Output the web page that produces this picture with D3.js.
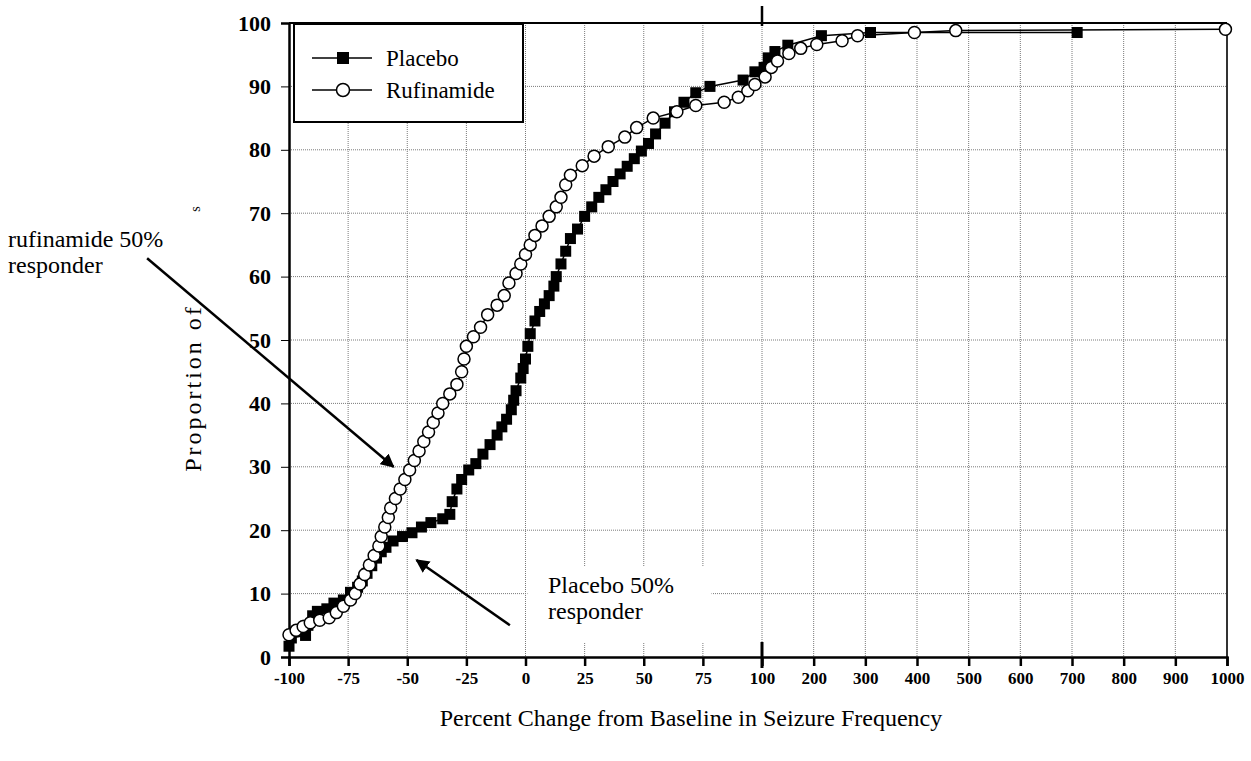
<!DOCTYPE html>
<html>
<head>
  <meta charset="utf-8">
  <script type="text/javascript" src="https://cdn.jsdelivr.net/npm/d3@7/dist/d3.min.js"></script>
  <style>
    body { margin: 0; background: #fff; }
    text { font-family: "Liberation Serif", "Times New Roman", serif; fill: #000; }
  </style>
</head>
<body>
  <div id="chart"></div>
  <script type="text/javascript">

    // tick values (the x axis is split: 25 steps up to 100, then 100 steps)
    var xTicks = [-100, -75, -50, -25, 0, 25, 50, 75, 100, 200, 300, 400, 500, 600, 700, 800, 900, 1000];
    var yTicks = [0, 10, 20, 30, 40, 50, 60, 70, 80, 90, 100];

    // Placebo : percent change / cumulative proportion
    var placeboX = [-100, -99, -93, -92, -90, -88, -84, -81, -77, -74, -71, -69, -67, -65, -63, -61, -59, -56, -52, -48, -44,
                    -40, -35, -32, -31, -29, -27, -24, -21, -18, -15, -12, -10, -8, -6, -5, -4, -2, -1, 0, 1, 2, 4,
                    6, 8, 10, 12, 13, 15, 17, 19, 22, 25, 28, 31, 34, 37, 40, 43, 46, 49, 52, 55, 59, 63,
                    67, 72, 78, 92, 97, 104, 112, 125, 150, 215, 310, 710];
    var placeboY = [1.7, 3.0, 3.4, 5.0, 6.5, 7.2, 7.6, 8.5, 9.0, 10.2, 11.0, 12.0, 13.2, 14.4, 15.6, 16.6, 17.3, 18.3, 19.0, 19.6, 20.5,
                    21.2, 21.8, 22.5, 24.5, 26.5, 28.0, 29.5, 30.5, 32.0, 33.5, 35.0, 36.3, 37.5, 39.0, 40.5, 42.0, 44.0, 45.5, 47.0, 49.0, 51.0, 53.0,
                    54.5, 55.7, 57.0, 58.5, 60.0, 62.0, 64.0, 66.0, 67.5, 69.5, 71.0, 72.5, 73.7, 75.0, 76.2, 77.4, 78.6, 79.8, 81.0, 82.5, 84.2, 86.0,
                    87.5, 89.0, 90.0, 91.0, 92.3, 93.0, 94.5, 95.5, 96.5, 98.0, 98.5, 98.5];

    // Rufinamide
    var rufiX = [-100, -97, -94, -91, -87, -83, -80, -77, -74, -72, -70, -68, -66, -64, -62, -61, -59.5, -58, -57, -55,
                 -53, -51, -49, -47, -45, -43, -41, -39, -37, -35, -32, -29, -27, -26, -25, -22, -19, -16, -12, -9,
                 -7, -4, -2, 0, 2, 4, 7, 10, 13, 15, 17, 19, 24, 29, 35, 42, 47, 54, 64, 72,
                 84, 90, 94, 97, 106, 118, 130, 152, 175, 206, 255, 285, 395, 475, 997];
    var rufiY = [3.5, 4.2, 4.8, 5.4, 5.8, 6.2, 7.0, 8.0, 9.0, 10.0, 11.5, 13.0, 14.5, 16.0, 17.5, 19.0, 20.5, 22.0, 23.5, 25.0,
                 26.5, 28.0, 29.5, 31.0, 32.5, 34.0, 35.5, 37.0, 38.5, 40.0, 41.5, 43.0, 45.0, 47.0, 49.0, 50.5, 52.0, 54.0, 55.5, 57.0,
                 59.0, 60.5, 62.0, 63.5, 65.0, 66.5, 68.0, 69.5, 71.0, 72.5, 74.5, 76.0, 77.5, 79.0, 80.5, 82.0, 83.5, 85.0, 86.0, 87.0,
                 87.5, 88.3, 89.3, 90.3, 91.5, 93.0, 94.0, 95.2, 96.0, 96.6, 97.2, 98.0, 98.5, 98.8, 99.0];

    var w = 1251;
    var h = 761;
    var pLeft = 289, pBreak = 762, pRight = 1227, pTop = 23, pBottom = 657;

    var placebo = placeboX.map(function(d, i) { return {x: d, y: placeboY[i]}; });
    var rufi = rufiX.map(function(d, i) { return {x: d, y: rufiY[i]}; });

    var svg = d3.select("#chart")
                .append("svg")
                .attr("width", w)
                .attr("height", h);

    // piecewise scale: -100..100 and 100..1000 get their own stretch
    var xScale = d3.scaleLinear()
                   .domain([-100, 100, 1000])
                   .range([pLeft, pBreak, pRight]);
    var yScale = d3.scaleLinear()
                   .domain([0, 100])
                   .range([pBottom, pTop]);

    // grid
    svg.append("g")
       .selectAll("line")
       .data(xTicks.slice(1))
       .enter()
       .append("line")
       .attr("x1", function(d) { return xScale(d); })
       .attr("x2", function(d) { return xScale(d); })
       .attr("y1", pTop)
       .attr("y2", pBottom)
       .attr("stroke", "#7a7a7a")
       .attr("stroke-width", 1)
       .attr("stroke-dasharray", "1,1");
    svg.append("g")
       .selectAll("line")
       .data(yTicks.slice(1, -1))
       .enter()
       .append("line")
       .attr("x1", pLeft)
       .attr("x2", pRight)
       .attr("y1", function(d) { return yScale(d); })
       .attr("y2", function(d) { return yScale(d); })
       .attr("stroke", "#7a7a7a")
       .attr("stroke-width", 1)
       .attr("stroke-dasharray", "1,1");

    // frame top / right
    svg.append("line").attr("x1", pLeft).attr("x2", pRight).attr("y1", pTop).attr("y2", pTop)
       .attr("stroke", "#000").attr("stroke-width", 2);
    svg.append("line").attr("x1", pRight).attr("x2", pRight).attr("y1", pTop).attr("y2", pBottom)
       .attr("stroke", "#333").attr("stroke-width", 2);

    // white box behind the placebo note (it hides the grid)
    svg.append("rect")
       .attr("x", xScale(0) + 2).attr("y", 566)
       .attr("width", 184).attr("height", 76)
       .attr("fill", "#fff");

    // axes
    var xAxis = d3.axisBottom(xScale)
                  .tickValues(xTicks)
                  .tickSize(9)
                  .tickPadding(6)
                  .tickFormat(function(d) { return String(d); });
    var gx = svg.append("g")
                .attr("class", "x_Axis")
                .attr("transform", "translate(0," + pBottom + ")")
                .call(xAxis);
    gx.select(".domain").attr("stroke-width", 2.5);
    gx.selectAll(".tick line").attr("stroke-width", 2.5);
    gx.selectAll("text")
      .style("font-family", "Liberation Serif")
      .style("font-size", "17px")
      .style("font-weight", "bold");

    var yAxis = d3.axisLeft(yScale)
                  .tickValues(yTicks)
                  .tickSize(8)
                  .tickPadding(10);
    var gy = svg.append("g")
                .attr("class", "y_Axis")
                .attr("transform", "translate(" + pLeft + ",0)")
                .call(yAxis);
    gy.select(".domain").attr("stroke-width", 2.5);
    gy.selectAll("text")
      .style("font-family", "Liberation Serif")
      .style("font-size", "22px")
      .style("font-weight", "bold");

    // break marks at 100
    svg.append("line").attr("x1", xScale(100)).attr("x2", xScale(100)).attr("y1", 6).attr("y2", pTop + 3)
       .attr("stroke", "#000").attr("stroke-width", 2.5);
    svg.append("line").attr("x1", xScale(100)).attr("x2", xScale(100)).attr("y1", pBottom - 15).attr("y2", pBottom + 11)
       .attr("stroke", "#000").attr("stroke-width", 3);

    var line = d3.line()
                 .x(function(d) { return xScale(d.x); })
                 .y(function(d) { return yScale(d.y); });

    // placebo
    svg.append("path")
       .datum(placebo)
       .attr("fill", "none")
       .attr("stroke", "#000")
       .attr("stroke-width", 1.5)
       .attr("d", line);
    svg.append("g")
       .selectAll("rect")
       .data(placebo)
       .enter()
       .append("rect")
       .attr("x", function(d) { return xScale(d.x) - 5.5; })
       .attr("y", function(d) { return yScale(d.y) - 5.5; })
       .attr("width", 11)
       .attr("height", 11)
       .attr("fill", "#000");

    // rufinamide
    svg.append("path")
       .datum(rufi)
       .attr("fill", "none")
       .attr("stroke", "#000")
       .attr("stroke-width", 1.5)
       .attr("d", line);
    svg.append("g")
       .selectAll("circle")
       .data(rufi)
       .enter()
       .append("circle")
       .attr("cx", function(d) { return xScale(d.x); })
       .attr("cy", function(d) { return yScale(d.y); })
       .attr("r", 6)
       .attr("fill", "#fff")
       .attr("stroke", "#000")
       .attr("stroke-width", 1.5);

    // legend
    var legend = svg.append("g").attr("transform", "translate(294,24)");
    legend.append("rect")
          .attr("width", 229).attr("height", 98)
          .attr("fill", "#fff").attr("stroke", "#000").attr("stroke-width", 2);
    legend.append("line").attr("x1", 18).attr("x2", 78).attr("y1", 34).attr("y2", 34)
          .attr("stroke", "#000").attr("stroke-width", 1.5);
    legend.append("rect").attr("x", 43).attr("y", 28).attr("width", 12).attr("height", 12).attr("fill", "#000");
    legend.append("text").attr("x", 92).attr("y", 42).style("font-size", "23px").text("Placebo");
    legend.append("line").attr("x1", 18).attr("x2", 78).attr("y1", 66).attr("y2", 66)
          .attr("stroke", "#000").attr("stroke-width", 1.5);
    legend.append("circle").attr("cx", 49).attr("cy", 66).attr("r", 6.5)
          .attr("fill", "#fff").attr("stroke", "#000").attr("stroke-width", 1.5);
    legend.append("text").attr("x", 92).attr("y", 74).style("font-size", "23px").text("Rufinamide");

    // axis titles
    svg.append("text")
       .attr("x", 691).attr("y", 726)
       .attr("text-anchor", "middle")
       .style("font-size", "24px")
       .text("Percent Change from Baseline in Seizure Frequency");
    svg.append("text")
       .attr("transform", "translate(201,388) rotate(-90)")
       .attr("text-anchor", "middle")
       .style("font-size", "24px")
       .style("letter-spacing", "3px")
       .text("Proportion of");
    svg.append("text")
       .attr("transform", "translate(200,209) rotate(-90)")
       .attr("text-anchor", "middle")
       .style("font-size", "14px")
       .text("s");

    // annotations
    svg.append("defs").append("marker")
       .attr("id", "head")
       .attr("viewBox", "0 0 10 10")
       .attr("refX", 9).attr("refY", 5)
       .attr("markerWidth", 5.5).attr("markerHeight", 5.5)
       .attr("orient", "auto")
       .append("path")
       .attr("d", "M0,0L10,5L0,10z")
       .attr("fill", "#000");

    svg.append("text").attr("x", 8).attr("y", 247).style("font-size", "24px").text("rufinamide 50%");
    svg.append("text").attr("x", 8).attr("y", 273).style("font-size", "24px").text("responder");
    svg.append("line")
       .attr("x1", xScale(-160)).attr("y1", yScale(62.9))
       .attr("x2", xScale(-55.8)).attr("y2", yScale(30))
       .attr("stroke", "#000").attr("stroke-width", 2.5)
       .attr("marker-end", "url(#head)");

    svg.append("text").attr("x", 548).attr("y", 593).style("font-size", "24px").text("Placebo 50%");
    svg.append("text").attr("x", 548).attr("y", 619).style("font-size", "24px").text("responder");
    svg.append("line")
       .attr("x1", xScale(-6.6)).attr("y1", yScale(5))
       .attr("x2", xScale(-46.1)).attr("y2", yScale(15.3))
       .attr("stroke", "#000").attr("stroke-width", 2.5)
       .attr("marker-end", "url(#head)");

  </script>
</body>
</html>
